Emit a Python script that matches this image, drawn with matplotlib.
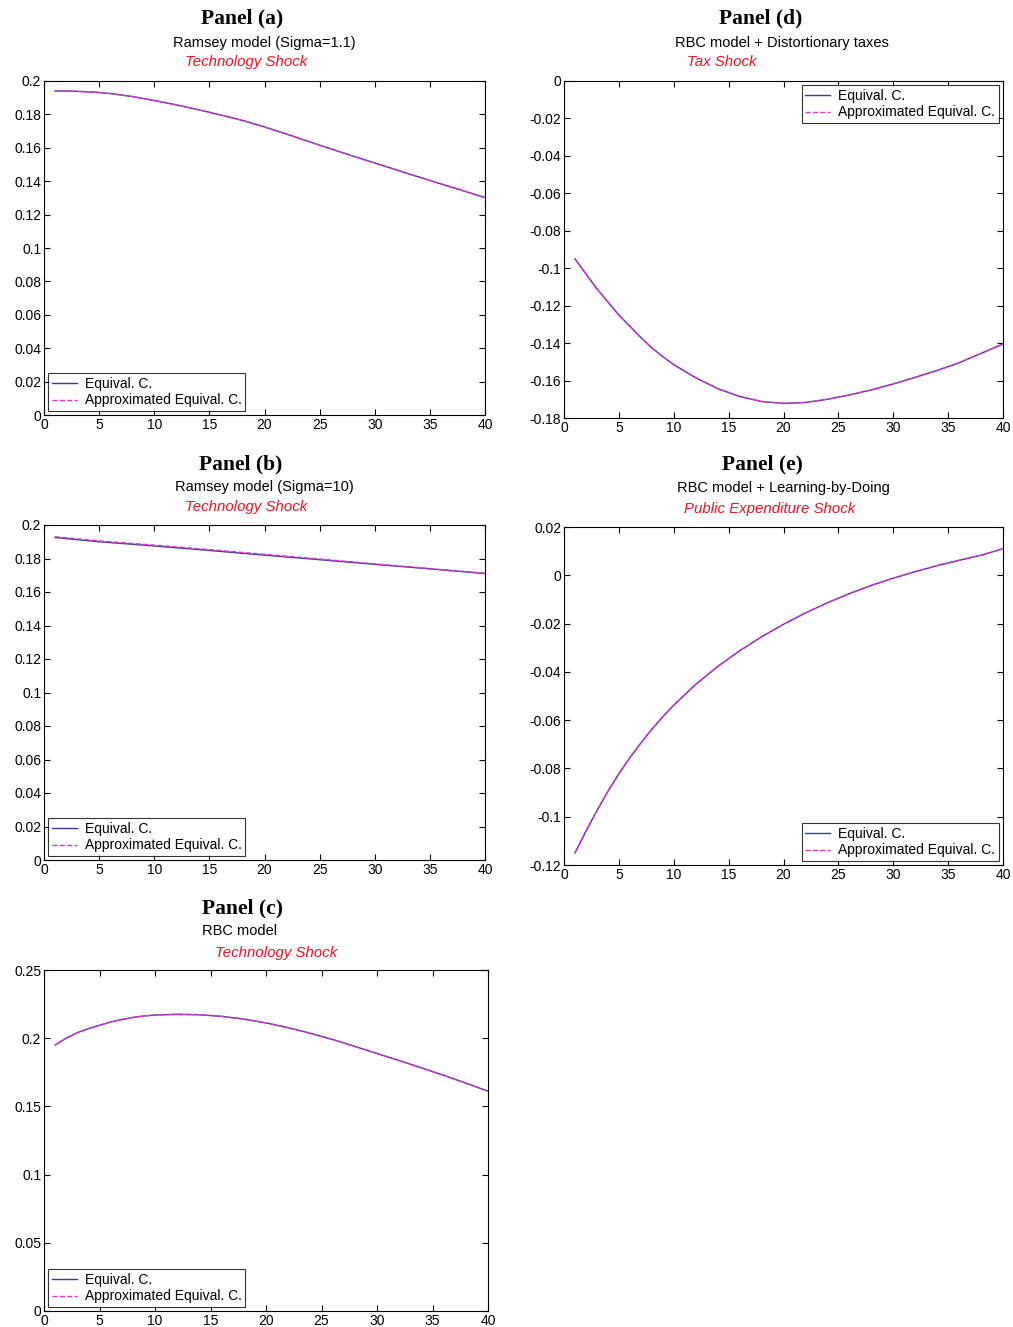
import matplotlib
matplotlib.use("Agg")
import matplotlib.pyplot as plt

plt.rcParams['font.family'] = ['Liberation Sans', 'DejaVu Sans']

W, H = 1013, 1327

# horizon (periods) where values were read
t_a = [1, 2, 3, 4, 5, 6, 8, 10, 12, 14, 16, 18, 20, 22, 24, 26, 28, 30, 32, 34, 36, 38, 40]
equiv_a = [0.194, 0.194, 0.1938, 0.1935, 0.1931, 0.1925, 0.1907, 0.1883, 0.1857, 0.1828,
           0.1797, 0.1764, 0.1725, 0.1682, 0.1638, 0.1594, 0.1551, 0.1509, 0.1467, 0.1425,
           0.1384, 0.1343, 0.1302]
approx_a = equiv_a

t_b = [1, 5, 10, 15, 20, 25, 30, 35, 40]
equiv_b = [0.1925, 0.190, 0.1875, 0.1848, 0.1820, 0.1793, 0.1765, 0.1738, 0.1710]
approx_b = [0.1930, 0.1905, 0.1880, 0.1853, 0.1825, 0.1797, 0.1768, 0.1740, 0.1712]

t_c = [1, 2, 3, 4, 5, 6, 7, 8, 9, 10, 12, 14, 16, 18, 20, 22, 24, 26, 28, 30, 32, 34, 36, 38, 40]
equiv_c = [0.195, 0.200, 0.204, 0.207, 0.2095, 0.2118, 0.2137, 0.2152, 0.2163, 0.217, 0.2175, 0.2172,
           0.2160, 0.2140, 0.2112, 0.2077, 0.2036, 0.1990, 0.1940, 0.1888, 0.1836, 0.1783, 0.1728,
           0.1671, 0.1612]
approx_c = equiv_c

t_d = [1, 2, 3, 4, 5, 6, 7, 8, 9, 10, 12, 14, 16, 18, 20, 22, 24, 26, 28, 30, 32, 34, 36, 38, 40]
equiv_d = [-0.095, -0.103, -0.111, -0.118, -0.125, -0.131, -0.137, -0.1425, -0.1472, -0.1515, -0.1585,
           -0.1643, -0.1685, -0.1712, -0.1722, -0.1717, -0.1700, -0.1677, -0.1650, -0.1618, -0.1583,
           -0.1546, -0.1505, -0.1455, -0.1405]
approx_d = equiv_d

t_e = [1, 2, 3, 4, 5, 6, 7, 8, 9, 10, 12, 14, 16, 18, 20, 22, 24, 26, 28, 30, 32, 34, 36, 38, 40]
equiv_e = [-0.115, -0.106, -0.0975, -0.0895, -0.0822, -0.0756, -0.0695, -0.0638, -0.0586, -0.0538,
           -0.0452, -0.0378, -0.0313, -0.0255, -0.0203, -0.0156, -0.0114, -0.0076, -0.0042, -0.0012,
           0.0015, 0.0040, 0.0062, 0.0083, 0.0110]
approx_e = equiv_e

legend_labels = ['Equival. C.', 'Approximated Equival. C.']

panels = [
    # name, subtitle, shock, t, y1, y2, ylim, yticks, labels, axes box px (l, t, r, b), text x px, text y px, legend loc
    ('Panel (a)', 'Ramsey model (Sigma=1.1)', 'Technology Shock', t_a, equiv_a, approx_a,
     (0, 0.2), [0, 0.02, 0.04, 0.06, 0.08, 0.1, 0.12, 0.14, 0.16, 0.18, 0.2],
     ['0', '0.02', '0.04', '0.06', '0.08', '0.1', '0.12', '0.14', '0.16', '0.18', '0.2'],
     (44, 81, 485, 415), (242, 264, 246), (18, 43, 62), 'lower left'),
    ('Panel (b)', 'Ramsey model (Sigma=10)', 'Technology Shock', t_b, equiv_b, approx_b,
     (0, 0.2), [0, 0.02, 0.04, 0.06, 0.08, 0.1, 0.12, 0.14, 0.16, 0.18, 0.2],
     ['0', '0.02', '0.04', '0.06', '0.08', '0.1', '0.12', '0.14', '0.16', '0.18', '0.2'],
     (44, 525, 485, 860), (241, 264, 246), (464, 487, 507), 'lower left'),
    ('Panel (c)', 'RBC model', 'Technology Shock', t_c, equiv_c, approx_c,
     (0, 0.25), [0, 0.05, 0.1, 0.15, 0.2, 0.25],
     ['0', '0.05', '0.1', '0.15', '0.2', '0.25'],
     (44, 970, 488, 1311), (242, 240, 276), (908, 931, 953), 'lower left'),
    ('Panel (d)', 'RBC model + Distortionary taxes', 'Tax Shock', t_d, equiv_d, approx_d,
     (-0.18, 0), [-0.18, -0.16, -0.14, -0.12, -0.1, -0.08, -0.06, -0.04, -0.02, 0],
     ['-0.18', '-0.16', '-0.14', '-0.12', '-0.1', '-0.08', '-0.06', '-0.04', '-0.02', '0'],
     (564, 81, 1003, 418), (761, 782, 722), (18, 43, 62), 'upper right'),
    ('Panel (e)', 'RBC model + Learning-by-Doing', 'Public Expenditure Shock', t_e, equiv_e, approx_e,
     (-0.12, 0.02), [-0.12, -0.1, -0.08, -0.06, -0.04, -0.02, 0, 0.02],
     ['-0.12', '-0.1', '-0.08', '-0.06', '-0.04', '-0.02', '0', '0.02'],
     (564, 527, 1003, 865), (762, 783, 770), (464, 488, 509), 'lower right'),
]

fig = plt.figure(figsize=(W / 100, H / 100), dpi=100)

for (name, sub, shock, t, y1, y2, ylim, yt, ytl, box, xs, ys, loc) in panels:
    l, tp, r, b = box
    ax = fig.add_axes([l / W, 1 - b / H, (r - l) / W, (b - tp) / H])
    ax.plot(t, y1, color='#3a3a9a', lw=1.0, label=legend_labels[0])
    ax.plot(t, y2, color='#e030d0', lw=1.0, ls='--', label=legend_labels[1])
    ax.set_xlim(0, 40)
    ax.set_ylim(*ylim)
    ax.set_xticks(range(0, 41, 5))
    ax.set_yticks(yt)
    ax.set_yticklabels(ytl)
    ax.tick_params(direction='in', top=True, right=True, labelsize=10, length=4)
    ax.tick_params(axis='x', pad=2)
    ax.tick_params(axis='y', pad=2)
    for s in ax.spines.values():
        s.set_linewidth(0.8)
    leg = ax.legend(loc=loc, fontsize=10, frameon=True, fancybox=False,
                    edgecolor='black', handlelength=1.8, handletextpad=0.6,
                    borderpad=0.25, labelspacing=0.2, borderaxespad=0.3)
    leg.get_frame().set_linewidth(0.8)

    fig.text(xs[0] / W, 1 - ys[0] / H, name, ha='center', va='center',
             family=['Liberation Serif', 'DejaVu Serif'], fontweight='bold', fontsize=15.5)
    fig.text(xs[1] / W, 1 - ys[1] / H, sub, ha='center', va='center', fontsize=10.5)
    fig.text(xs[2] / W, 1 - ys[2] / H, shock, ha='center', va='center', fontsize=10.8,
             style='italic', color='#ee1122')

fig.savefig('out.png', dpi=100)
